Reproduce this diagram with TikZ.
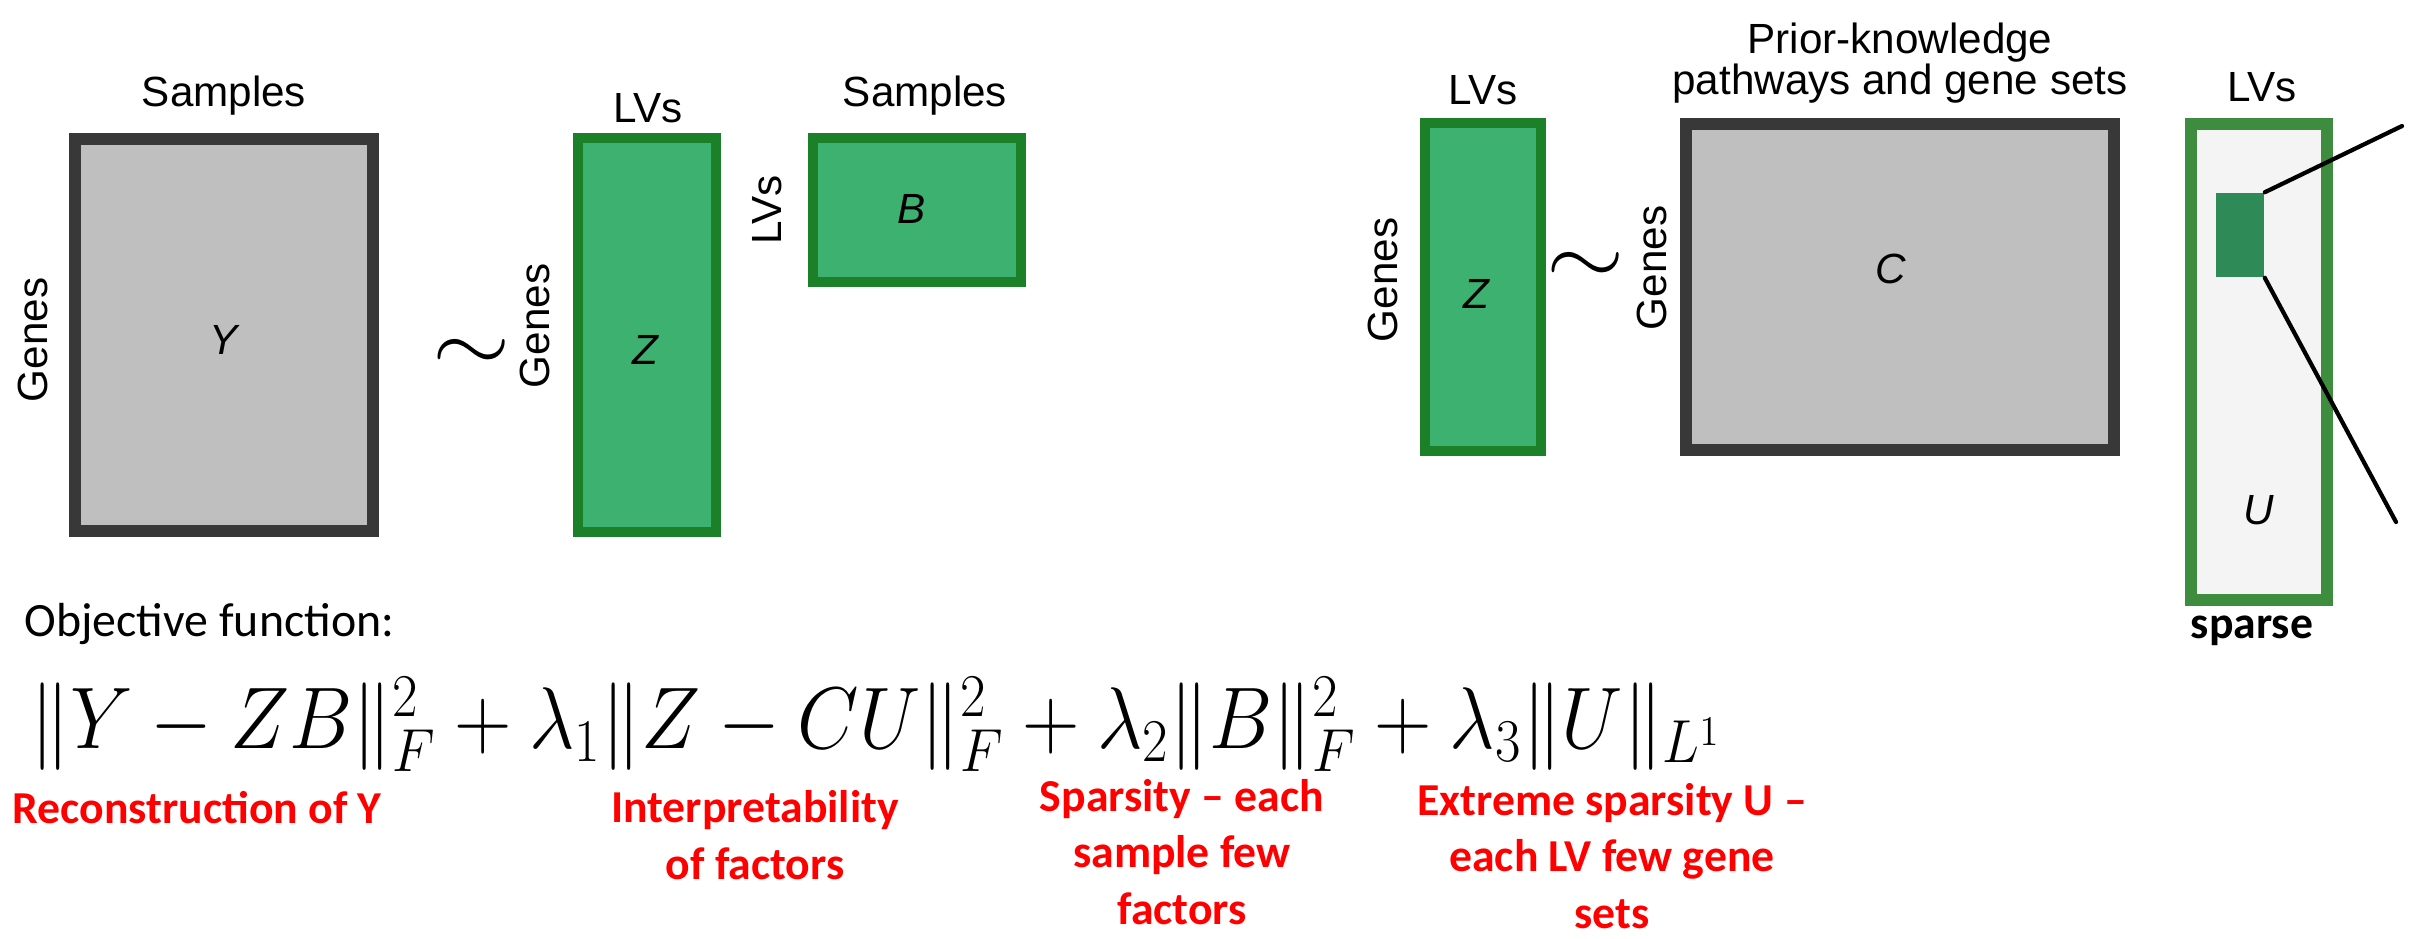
\documentclass[tikz,border=0pt]{standalone}
\usepackage{amsmath,amssymb}
\usepackage{fontspec}
\newfontfamily\labelfont{Liberation Sans}
\newfontfamily\notefont{Carlito}
\usepackage{tikz}

\definecolor{boxgray}{RGB}{191,191,191}
\definecolor{edgegray}{RGB}{56,56,56}
\definecolor{lvgreen}{RGB}{61,178,112}
\definecolor{lvedge}{RGB}{28,128,40}
\definecolor{uedge}{RGB}{62,140,62}
\definecolor{ufill}{RGB}{244,244,244}
\definecolor{hitgreen}{RGB}{46,139,87}

\begin{document}
\begin{tikzpicture}[x=0.01cm,y=-0.01cm,
    graybox/.style={draw=edgegray,fill=boxgray,line width=0.12cm,inner sep=0},
    greenbox/.style={draw=lvedge,fill=lvgreen,line width=0.1cm,inner sep=0},
    axis/.style={font=\labelfont\fontsize{12}{14}\selectfont,inner sep=0},
    mtx/.style={font=\labelfont\itshape\fontsize{12}{14}\selectfont,inner sep=0},
    approx/.style={font=\fontsize{24}{24}\selectfont,inner sep=0,xscale=1.15,transform shape},
    note/.style={font=\notefont\bfseries\fontsize{13}{16}\selectfont,text=red,align=center,inner sep=0}]
      \useasboundingbox (0,0) rectangle (2410,938);
      % Y ~ Z B
      \node[graybox,minimum width=2.97cm,minimum height=3.92cm] (Y) at (224,335) {};
      \node[greenbox,minimum width=1.37cm,minimum height=3.94cm] (Z) at (647,335) {};
      \node[greenbox,minimum width=2.07cm,minimum height=1.43cm] (B) at (917,210) {};
      \node[mtx] (Ylab) at (224,340) {Y};
      \node[mtx] (Zlab) at (645,350) {Z};
      \node[mtx] (Blab) at (912,209) {B};
      \node[axis,anchor=base] (Ytop) at (224,106) {Samples};
      \node[axis,rotate=90] (Yside) at (33,340) {Genes};
      \node[axis,anchor=base] (Ztop) at (648,122) {LVs};
      \node[axis,rotate=90] (Zside) at (535,326) {Genes};
      \node[axis,anchor=base] (Btop) at (925,106) {Samples};
      \node[axis,rotate=90] (Bside) at (767,210) {LVs};
      \node[approx] (sim1) at (472,355) {$\sim$};
      % Z ~ C U
      \node[greenbox,minimum width=1.16cm,minimum height=3.27cm] (Z2) at (1483,287) {};
      \node[graybox,minimum width=4.27cm,minimum height=3.25cm] (C) at (1900,287) {};
      \node[draw=uedge,fill=ufill,line width=0.12cm,inner sep=0,
            minimum width=1.36cm,minimum height=4.76cm] (U) at (2259,362) {};
      \node[fill=hitgreen,inner sep=0,minimum width=0.48cm,minimum height=0.84cm] (hit) at (2240,235) {};
      \node[mtx] (Z2lab) at (1476,294) {Z};
      \node[mtx] (Clab) at (1891,269) {C};
      \node[mtx] (Ulab) at (2259,510) {U};
      \node[axis,anchor=base] (Z2top) at (1483,104) {LVs};
      \node[axis,rotate=90] (Z2side) at (1383,280) {Genes};
      \node[axis,anchor=base,align=center,font=\labelfont\fontsize{12}{11.4}\selectfont] (Ctop) at (1900,94)
        {Prior-knowledge\\pathways and gene sets};
      \node[axis,rotate=90] (Cside) at (1652,268) {Genes};
      \node[axis,anchor=base] (Utop) at (2262,101) {LVs};
      \node[approx] (sim2) at (1586,268) {$\sim$};
      \node[font=\notefont\bfseries\fontsize{13}{16}\selectfont,anchor=base,inner sep=0] (sparse) at (2252,638) {sparse};
      \coordinate (hitA) at (2402,126);
      \coordinate (hitB) at (2396,522);
      \draw[line width=1.2pt,line cap=round] (hit.north east) -- (hitA);
      \draw[line width=1.2pt,line cap=round] (hit.south east) -- (hitB);
      % objective
      \node[font=\notefont\fontsize{13.6}{16}\selectfont,anchor=base west,inner sep=0] (objtitle) at (24,636) {Objective function:};
      \node[font=\fontsize{24}{28}\selectfont,anchor=base west,inner sep=0,xscale=0.91,transform shape] (obj) at (30,748)
        {$\|Y - ZB\|_F^2 + \lambda_1\|Z - CU\|_F^2 + \lambda_2\|B\|_F^2 + \lambda_3\|U\|_{L^1}$};
      \node[note,anchor=base west] (rec) at (12,823) {Reconstruction of Y};
      \node[note,anchor=base] (interp) at (755,879) {Interpretability\\of factors};
      \node[note,anchor=base] (spars) at (1182,924) {Sparsity – each\\sample few\\factors};
      \node[note,anchor=base] (extreme) at (1612,928) {Extreme sparsity U –\\each LV few gene\\sets};
    \end{tikzpicture}
\end{document}
